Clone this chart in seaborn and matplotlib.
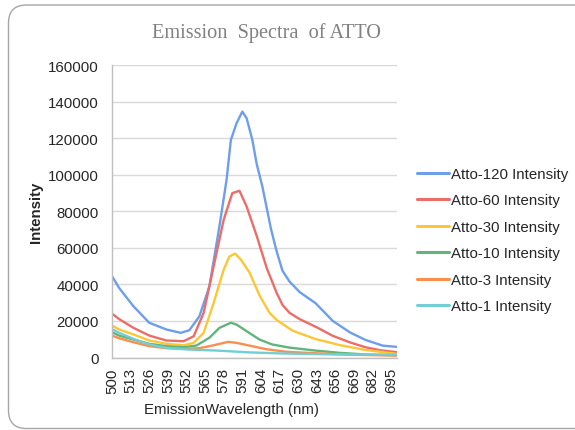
import matplotlib
matplotlib.use("Agg")
import matplotlib.pyplot as plt
import matplotlib.transforms as mtransforms
from matplotlib.patches import FancyBboxPatch
import seaborn as sns
import pandas as pd

# ---- data ----
series_names = ["Atto-120 Intensity", "Atto-60 Intensity", "Atto-30 Intensity",
                "Atto-10 Intensity", "Atto-3 Intensity", "Atto-1 Intensity"]

wl_120 = [500, 505, 515, 526, 538, 548, 554, 561, 568, 575, 580, 583, 587, 591, 594, 598,
          601, 605, 611, 615, 619, 624, 631, 637, 642, 648, 654, 666, 677, 689, 699]
in_120 = [44500, 38000, 28000, 19000, 15300, 13500, 14900, 22500, 38900, 71700, 97200, 119000,
          128200, 134500, 130900, 119000, 106000, 93500, 70300, 58000, 47500, 41500, 35800,
          32500, 29800, 25000, 20100, 13800, 9600, 6500, 5800]

wl_60 = [500, 505, 515, 526, 538, 550, 557, 564, 571, 578, 584, 589, 594, 601, 608, 615, 619,
         624, 631, 643, 654, 666, 677, 687, 699]
in_60 = [24000, 21000, 16200, 12000, 9300, 8900, 11600, 24400, 49900, 75400, 89900, 91200,
         82600, 66600, 49000, 35300, 28800, 24400, 21000, 16500, 11900, 8300, 5600, 4000, 2900]

wl_30 = [500, 505, 515, 526, 538, 550, 557, 564, 571, 578, 582, 586, 590, 596, 603, 610,
         615, 626, 642, 659, 677, 699]
in_30 = [17500, 15300, 12600, 9300, 7500, 6700, 8000, 13500, 29900, 48100, 55300, 56800,
         53500, 46500, 34000, 24400, 20500, 14700, 10100, 6800, 4100, 2000]

wl_10 = [500, 505, 515, 526, 538, 550, 559, 568, 575, 583, 587, 594, 603, 612, 624,
         642, 659, 678, 699]
in_10 = [13800, 12000, 9800, 7500, 6200, 5600, 6550, 10800, 16200, 19000, 18000, 14400,
         9800, 7100, 5400, 3800, 2550, 1600, 1200]

wl_3 = [500, 505, 515, 526, 538, 550, 561, 571, 581, 587, 596, 608, 622, 643, 666, 699]
in_3 = [12000, 10500, 8350, 6200, 5100, 4750, 5100, 6700, 8550, 8000, 6500, 4500, 3100,
        2300, 1500, 1100]

wl_1 = [500, 505, 515, 526, 538, 552, 573, 596, 619, 654, 699]
in_1 = [15500, 13500, 10200, 7100, 5300, 4400, 3800, 2800, 2200, 1700, 1500]

x_ticks = [500, 513, 526, 539, 552, 565, 578, 591, 604, 617, 630, 643, 656, 669, 682, 695]
y_ticks = [0, 20000, 40000, 60000, 80000, 100000, 120000, 140000, 160000]

colors = ["#6D9EEB", "#EC6D68", "#FBC737", "#63B47A", "#FA8F4C", "#73CDD5"]

frames = []
for name, wl, vals in zip(series_names,
                          [wl_120, wl_60, wl_30, wl_10, wl_3, wl_1],
                          [in_120, in_60, in_30, in_10, in_3, in_1]):
    frames.append(pd.DataFrame({"wavelength": wl, "intensity": vals, "series": name}))
df = pd.concat(frames, ignore_index=True)

# ---- figure ----
sns.set_theme(style="white")
plt.rcParams["font.family"] = ["Liberation Sans", "DejaVu Sans"]

W, H = 575, 431
fig = plt.figure(figsize=(W / 100, H / 100), dpi=100)
ax = fig.add_axes([112 / W, (H - 358.5) / H, 285 / W, 292.5 / H])

sns.lineplot(data=df, x="wavelength", y="intensity", hue="series",
             hue_order=series_names, palette=dict(zip(series_names, colors)),
             estimator=None, sort=True, linewidth=1.7, ax=ax, legend=True)

ax.set_xlim(500, 699)
ax.set_ylim(0, 160000)
ax.set_xticks(x_ticks)
ax.set_xticklabels([str(t) for t in x_ticks], rotation=90)
ax.set_yticks(y_ticks)
ax.set_yticklabels([str(t) for t in y_ticks])
ax.tick_params(axis="both", length=0, labelsize=10.8, colors="#262626")
ax.tick_params(axis="y", pad=9.5)
ax.tick_params(axis="x", pad=7)

ax.grid(axis="y", color="#D9D9D9", linewidth=1.0)
ax.grid(axis="x", visible=False)
for side in ["top", "right"]:
    ax.spines[side].set_visible(False)
for side in ["left", "bottom"]:
    ax.spines[side].set_color("#BFBFBF")
    ax.spines[side].set_linewidth(1.0)

ax.set_ylabel("Intensity", fontsize=10.8, fontweight="bold", color="#262626")
ax.yaxis.set_label_coords(-0.242, 0.5)
ax.set_xlabel("EmissionWavelength (nm)", fontsize=10.8, color="#262626")
ax.xaxis.set_label_coords(0.42, -0.152)

handles, labels = ax.get_legend_handles_labels()
ax.get_legend().remove()
leg = fig.legend(handles, labels, loc="upper left",
                 bbox_to_anchor=(417 / W, (H - 168) / H), frameon=False,
                 fontsize=10.8, handlelength=2.1, handletextpad=0.15,
                 labelspacing=0.83, borderpad=0, borderaxespad=0)
for t in leg.get_texts():
    t.set_color("#262626")
for l in leg.get_lines():
    l.set_linewidth(2.2)

fig.text(266 / W, (H - 33) / H, "Emission  Spectra  of ATTO", ha="center", va="center",
         family=["Liberation Serif", "DejaVu Serif"], fontsize=14.6, color="#808080")

frame = FancyBboxPatch((8.5, 1.5), 700, 423.5,
                       boxstyle="round,pad=0,rounding_size=18",
                       transform=mtransforms.IdentityTransform(),
                       facecolor="none", edgecolor="#A6A6A6", linewidth=1.0)
fig.add_artist(frame)

fig.savefig("out.png", dpi=100)
